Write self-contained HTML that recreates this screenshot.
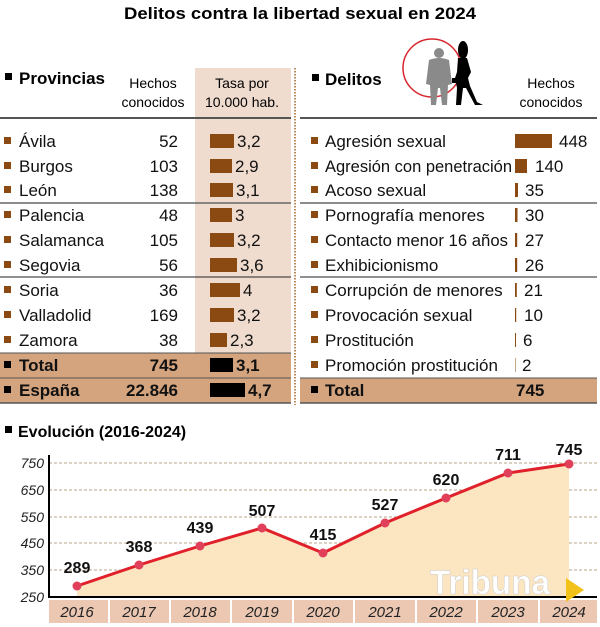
<!DOCTYPE html>
<html><head><meta charset="utf-8"><style>
html,body{margin:0;padding:0;background:#fff;}
svg{display:block;font-family:"Liberation Sans",sans-serif;}
</style></head><body>
<svg width="600" height="627" viewBox="0 0 600 627" xmlns="http://www.w3.org/2000/svg">
<text x="300" y="19" text-anchor="middle" font-size="17" font-weight="bold" textLength="352" lengthAdjust="spacingAndGlyphs">Delitos contra la libertad sexual en 2024</text>

<!-- left table -->
<rect x="195" y="68" width="96" height="285" fill="#f0dccf"/>
<rect x="0" y="353" width="291" height="50" fill="#d4a47e"/>
<line x1="295" y1="68" x2="295" y2="405" stroke="#b98a5a" stroke-width="2" stroke-dasharray="1.5,1.5"/>
<rect x="5" y="73" width="7" height="7" fill="#000"/>
<text x="19" y="84" font-size="17" font-weight="bold">Provincias</text>
<text x="153" y="88" font-size="14" text-anchor="middle">Hechos</text>
<text x="153" y="107" font-size="14" text-anchor="middle">conocidos</text>
<text x="242" y="88" font-size="14" text-anchor="middle">Tasa por</text>
<text x="242" y="107" font-size="14" text-anchor="middle">10.000 hab.</text>
<line x1="0" y1="118" x2="291" y2="118" stroke="#555" stroke-width="2"/>
<line x1="0" y1="203" x2="291" y2="203" stroke="#666" stroke-width="1.5"/>
<line x1="0" y1="277" x2="291" y2="277" stroke="#222" stroke-width="1"/>
<line x1="0" y1="353" x2="291" y2="353" stroke="#555" stroke-width="1"/>
<line x1="0" y1="378" x2="291" y2="378" stroke="#555" stroke-width="1"/>
<line x1="0" y1="403" x2="291" y2="403" stroke="#555" stroke-width="1.5"/>
<g font-size="17" fill="#111">
<g fill="#8b4a12">
<rect x="4" y="137" width="7" height="7"/><rect x="4" y="162" width="7" height="7"/><rect x="4" y="186" width="7" height="7"/>
<rect x="4" y="211" width="7" height="7"/><rect x="4" y="236" width="7" height="7"/><rect x="4" y="261" width="7" height="7"/>
<rect x="4" y="286" width="7" height="7"/><rect x="4" y="311" width="7" height="7"/><rect x="4" y="336" width="7" height="7"/>
</g>
<rect x="4" y="361" width="7" height="7" fill="#000"/><rect x="4" y="386" width="7" height="7" fill="#000"/>
<text x="19" y="147">Ávila</text><text x="178" y="147" text-anchor="end">52</text>
<text x="19" y="172">Burgos</text><text x="178" y="172" text-anchor="end">103</text>
<text x="19" y="196">León</text><text x="178" y="196" text-anchor="end">138</text>
<text x="19" y="221">Palencia</text><text x="178" y="221" text-anchor="end">48</text>
<text x="19" y="246">Salamanca</text><text x="178" y="246" text-anchor="end">105</text>
<text x="19" y="271">Segovia</text><text x="178" y="271" text-anchor="end">56</text>
<text x="19" y="296">Soria</text><text x="178" y="296" text-anchor="end">36</text>
<text x="19" y="321">Valladolid</text><text x="178" y="321" text-anchor="end">169</text>
<text x="19" y="346">Zamora</text><text x="178" y="346" text-anchor="end">38</text>
<text x="19" y="371" font-weight="bold">Total</text><text x="178" y="371" text-anchor="end" font-weight="bold">745</text>
<text x="19" y="396" font-weight="bold">España</text><text x="178" y="396" text-anchor="end" font-weight="bold">22.846</text>
<g fill="#8b4a12">
<rect x="210" y="134" width="24" height="14"/><rect x="210" y="159" width="22" height="14"/><rect x="210" y="183" width="23" height="14"/>
<rect x="210" y="208" width="22" height="14"/><rect x="210" y="233" width="24" height="14"/><rect x="210" y="258" width="27" height="14"/>
<rect x="210" y="283" width="30" height="14"/><rect x="210" y="308" width="24" height="14"/><rect x="210" y="333" width="17" height="14"/>
</g>
<rect x="210" y="358" width="23" height="14" fill="#000"/><rect x="210" y="383" width="35" height="14" fill="#000"/>
<text x="237" y="147">3,2</text><text x="235" y="172">2,9</text><text x="236" y="196">3,1</text>
<text x="235" y="221">3</text><text x="237" y="246">3,2</text><text x="240" y="271">3,6</text>
<text x="243" y="296">4</text><text x="237" y="321">3,2</text><text x="230" y="346">2,3</text>
<text x="236" y="371" font-weight="bold">3,1</text><text x="248" y="396" font-weight="bold">4,7</text>
</g>

<!-- right table -->
<rect x="300" y="378" width="297" height="25" fill="#d4a47e"/>
<circle cx="432" cy="68" r="29" fill="none" stroke="#d8262e" stroke-width="1.5"/>
<g fill="#8a8a8a">
<circle cx="439" cy="53" r="5"/>
<path d="M429 60 Q439 56 449 60 L452 84 L448 85 L447 105 L442 105 L440 88 L438 88 L436 105 L431 105 L430 85 L426 84 Z"/>
</g>
<g fill="#000">
<ellipse cx="463" cy="50" rx="5" ry="9"/>
<path d="M458 58 L467 58 L471 72 L468 78 L470 86 L477 102 L483 105 L475 105 L466 88 L463 88 L461 105 L456 105 L457 88 L455 78 L457 72 Z"/>
<rect x="452" y="78" width="5" height="5"/>
</g>
<rect x="312" y="74" width="7" height="7" fill="#000"/>
<text x="325" y="85" font-size="17" font-weight="bold">Delitos</text>
<text x="551" y="88" font-size="14" text-anchor="middle">Hechos</text>
<text x="551" y="107" font-size="14" text-anchor="middle">conocidos</text>
<line x1="300" y1="118" x2="597" y2="118" stroke="#555" stroke-width="2"/>
<line x1="300" y1="203" x2="597" y2="203" stroke="#666" stroke-width="1.5"/>
<line x1="300" y1="277" x2="597" y2="277" stroke="#222" stroke-width="1"/>
<line x1="300" y1="378" x2="597" y2="378" stroke="#555" stroke-width="1"/>
<line x1="300" y1="403" x2="597" y2="403" stroke="#555" stroke-width="1.5"/>
<g font-size="17" fill="#111">
<g fill="#8b4a12">
<rect x="311" y="137" width="7" height="7"/><rect x="311" y="162" width="7" height="7"/><rect x="311" y="186" width="7" height="7"/>
<rect x="311" y="211" width="7" height="7"/><rect x="311" y="236" width="7" height="7"/><rect x="311" y="261" width="7" height="7"/>
<rect x="311" y="286" width="7" height="7"/><rect x="311" y="311" width="7" height="7"/><rect x="311" y="336" width="7" height="7"/>
<rect x="311" y="361" width="7" height="7"/>
<rect x="515" y="134" width="37" height="14"/><rect x="515" y="159" width="12" height="14"/><rect x="515" y="183" width="3" height="14"/>
<rect x="515" y="208" width="2.5" height="14"/><rect x="515" y="233" width="2.2" height="14"/><rect x="515" y="258" width="2.2" height="14"/>
<rect x="515" y="283" width="1.8" height="14"/><rect x="515" y="308" width="1.2" height="14"/><rect x="515" y="333" width="1" height="14"/>
<rect x="515" y="358" width="0.5" height="14"/>
</g>
<rect x="311" y="386" width="7" height="7" fill="#000"/>
<text x="325" y="147">Agresión sexual</text><text x="559" y="147">448</text>
<text x="325" y="172" textLength="187" lengthAdjust="spacingAndGlyphs">Agresión con penetración</text><text x="535" y="172">140</text>
<text x="325" y="196">Acoso sexual</text><text x="525" y="196">35</text>
<text x="325" y="221">Pornografía menores</text><text x="525" y="221">30</text>
<text x="325" y="246" textLength="183" lengthAdjust="spacingAndGlyphs">Contacto menor 16 años</text><text x="525" y="246">27</text>
<text x="325" y="271">Exhibicionismo</text><text x="525" y="271">26</text>
<text x="325" y="296">Corrupción de menores</text><text x="524" y="296">21</text>
<text x="325" y="321">Provocación sexual</text><text x="524" y="321">10</text>
<text x="325" y="346">Prostitución</text><text x="523" y="346">6</text>
<text x="325" y="371">Promoción prostitución</text><text x="522" y="371">2</text>
<text x="325" y="396" font-weight="bold">Total</text><text x="516" y="396" font-weight="bold">745</text>
</g>

<!-- evolution chart -->
<rect x="5" y="426" width="7" height="7" fill="#000"/>
<text x="18" y="437" font-size="16" font-weight="bold">Evolución (2016-2024)</text>
<g stroke="#b8a58a" stroke-width="1" stroke-dasharray="3,2">
<line x1="49" y1="463" x2="597" y2="463"/><line x1="49" y1="490" x2="597" y2="490"/>
<line x1="49" y1="517" x2="597" y2="517"/><line x1="49" y1="543" x2="597" y2="543"/>
<line x1="49" y1="570" x2="597" y2="570"/>
</g>
<polygon fill="#fce6c2" points="77,597 77,586 139,565 200,546 262,528 323,553 385,523 446,498 508,473 569,464 569,597"/>
<polyline fill="none" stroke="#e0202a" stroke-width="3" points="77,586 139,565 200,546 262,528 323,553 385,523 446,498 508,473 569,464"/>
<g fill="#e0405a">
<circle cx="77" cy="586" r="4.5"/><circle cx="139" cy="565" r="4.5"/><circle cx="200" cy="546" r="4.5"/>
<circle cx="262" cy="528" r="4.5"/><circle cx="323" cy="553" r="4.5"/><circle cx="385" cy="523" r="4.5"/>
<circle cx="446" cy="498" r="4.5"/><circle cx="508" cy="473" r="4.5"/><circle cx="569" cy="464" r="4.5"/>
</g>
<line x1="49" y1="455" x2="49" y2="598" stroke="#000" stroke-width="2"/>
<line x1="48" y1="597" x2="597" y2="597" stroke="#000" stroke-width="2"/>
<g font-size="14" font-style="italic" text-anchor="end" fill="#222">
<text x="44" y="468">750</text><text x="44" y="495">650</text><text x="44" y="522">550</text>
<text x="44" y="548">450</text><text x="44" y="575">350</text><text x="44" y="602">250</text>
</g>
<g font-size="16" font-weight="bold" text-anchor="middle" fill="#111">
<text x="77" y="573">289</text><text x="139" y="552">368</text><text x="200" y="533">439</text>
<text x="262" y="516">507</text><text x="323" y="540">415</text><text x="385" y="510">527</text>
<text x="446" y="485">620</text><text x="508" y="460">711</text><text x="569" y="455">745</text>
</g>
<g fill="#ecc8b3">
<rect x="49" y="600" width="59" height="23"/><rect x="110" y="600" width="59" height="23"/><rect x="171" y="600" width="59" height="23"/>
<rect x="232" y="600" width="60" height="23"/><rect x="294" y="600" width="59" height="23"/><rect x="355" y="600" width="60" height="23"/>
<rect x="417" y="600" width="59" height="23"/><rect x="478" y="600" width="60" height="23"/><rect x="540" y="600" width="57" height="23"/>
</g>
<g font-size="15" font-style="italic" text-anchor="middle" fill="#222">
<text x="77" y="617">2016</text><text x="139" y="617">2017</text><text x="200" y="617">2018</text>
<text x="262" y="617">2019</text><text x="323" y="617">2020</text><text x="385" y="617">2021</text>
<text x="446" y="617">2022</text><text x="508" y="617">2023</text><text x="569" y="617">2024</text>
</g>
<text x="430" y="594" font-size="34" font-weight="bold" fill="#fff" stroke="#ccc" stroke-width="0.5" textLength="120" lengthAdjust="spacingAndGlyphs">Tribuna</text>
<polygon points="566,578 584,590 566,602" fill="#f2c21b"/>
</svg>
</body></html>
